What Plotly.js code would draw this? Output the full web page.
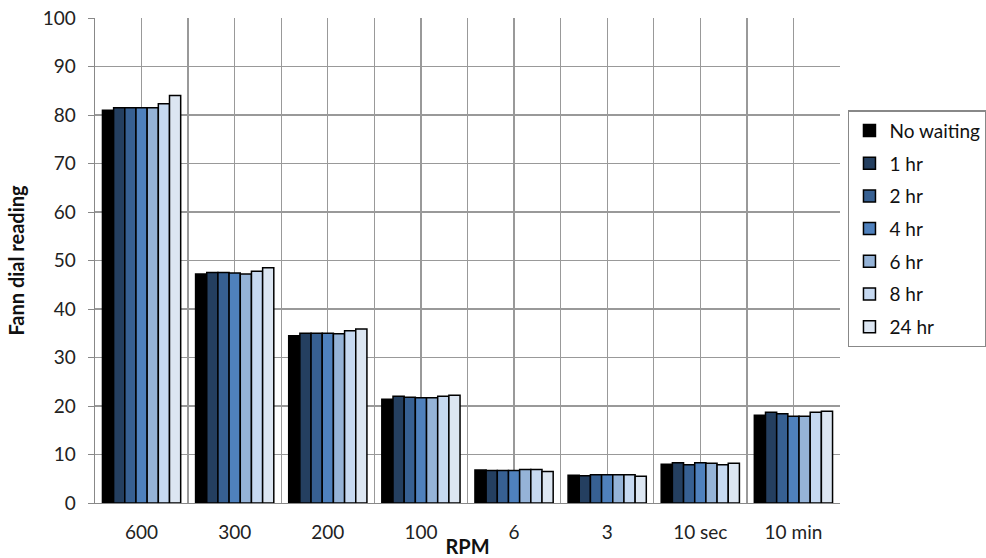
<!DOCTYPE html>
<html>
<head>
<meta charset="utf-8">
<script src="https://cdn.plot.ly/plotly-3.0.1.min.js"></script>
<style>html,body{margin:0;padding:0;background:#fff;}#chart{width:986px;height:558px;}</style>
</head>
<body>
<div id="chart"></div>
<script>
const categories = ["600", "300", "200", "100", "6", "3", "10 sec", "10 min"];
const seriesNames = ["No waiting", "1 hr", "2 hr", "4 hr", "6 hr", "8 hr", "24 hr"];
const noWaiting = [81.0, 47.2, 34.5, 21.4, 6.8, 5.7, 8.0, 18.1];
const hr1       = [81.5, 47.5, 35.0, 22.0, 6.7, 5.6, 8.3, 18.7];
const hr2       = [81.5, 47.5, 35.0, 21.8, 6.7, 5.8, 7.9, 18.4];
const hr4       = [81.5, 47.4, 35.0, 21.7, 6.7, 5.8, 8.3, 17.9];
const hr6       = [81.5, 47.2, 34.9, 21.7, 6.9, 5.8, 8.2, 17.9];
const hr8       = [82.3, 47.8, 35.5, 22.0, 6.9, 5.8, 7.9, 18.7];
const hr24      = [84.0, 48.5, 35.9, 22.2, 6.5, 5.5, 8.2, 18.9];
const seriesValues = [noWaiting, hr1, hr2, hr4, hr6, hr8, hr24];
const colors = ["#000000", "#243F60", "#376092", "#4F81BD", "#95B3D7", "#C6D9F1", "#DCE6F2"];

const xIdx = categories.map((c, i) => i);
const tickvals = [];
const ticktext = [];
for (let i = 0; i < categories.length; i++) {
  tickvals.push(i - 0.5); ticktext.push("");
  tickvals.push(i); ticktext.push(categories[i]);
}
tickvals.push(categories.length - 0.5); ticktext.push("");

const font = "Lato, 'Open Sans', sans-serif";

const traces = seriesValues.map((vals, k) => ({
  type: "bar",
  name: seriesNames[k],
  x: xIdx,
  y: vals,
  legendgroup: "g" + k,
  marker: { color: colors[k], line: { color: "#000000", width: 1.5 } },
  hoverinfo: "y+name"
}));

const layout = {
  width: 986, height: 558,
  margin: { l: 95, r: 146, t: 18, b: 55, autoexpand: false },
  paper_bgcolor: "#ffffff", plot_bgcolor: "#ffffff",
  barmode: "group", bargap: 0.16, bargroupgap: 0,
  font: { family: font, size: 19, color: "#222" },
  xaxis: {
    range: [-0.5, categories.length - 0.5],
    tickmode: "array", tickvals: tickvals, ticktext: ticktext,
    showgrid: true, gridcolor: "#999", gridwidth: 1.3,
    showline: true, linecolor: "#888", linewidth: 1.3,
    ticks: "", ticklabelstandoff: 12,
    zeroline: false,
    tickfont: { family: font, size: 19, color: "#222" },
    title: { text: "<b>RPM</b>", font: { family: font, size: 20, color: "#111" }, standoff: 0 }
  },
  yaxis: {
    range: [0, 100], dtick: 10, tick0: 0,
    showgrid: true, gridcolor: "#999", gridwidth: 1.3,
    showline: true, linecolor: "#888", linewidth: 1.3,
    ticks: "outside", ticklen: 6, tickcolor: "#888",
    ticklabelstandoff: 8, zeroline: false,
    tickfont: { family: font, size: 19, color: "#222" },
    title: { text: "<b>Fann dial reading</b>", font: { family: font, size: 20, color: "#111" }, standoff: 12 }
  },
  legend: {
    x: 1.0107, xanchor: "left", y: 0.81, yanchor: "top",
    bordercolor: "#888", borderwidth: 1.5, bgcolor: "#fff",
    font: { family: font, size: 19, color: "#111" },
    traceorder: "grouped", tracegroupgap: 5, itemwidth: 30
  },
  showlegend: true
};

Plotly.newPlot("chart", traces, layout, { displayModeBar: false, staticPlot: true });
</script>
</body>
</html>
